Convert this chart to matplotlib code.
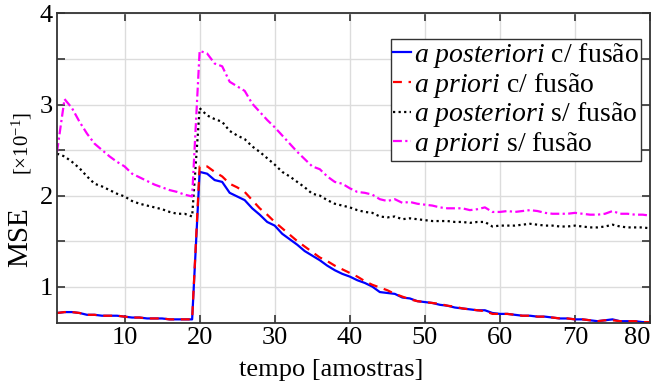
import matplotlib
matplotlib.use('Agg')
import matplotlib.pyplot as plt
import numpy as np

plt.rcParams['font.family'] = ['Liberation Serif', 'DejaVu Serif']
plt.rcParams['mathtext.fontset'] = 'custom'
plt.rcParams['mathtext.rm'] = 'Liberation Serif'
plt.rcParams['mathtext.it'] = 'Liberation Serif:italic'

# amostras 1..80
amostras = np.arange(1, 81)

post_c_fusao = [0.71, 0.72, 0.72, 0.71, 0.69, 0.69, 0.68, 0.68, 0.68, 0.67,
                0.66, 0.66, 0.65, 0.65, 0.65, 0.64, 0.64, 0.64, 0.64, 2.26,
                2.24, 2.17, 2.15, 2.03, 1.99, 1.95, 1.86, 1.79, 1.71, 1.67,
                1.58, 1.52, 1.46, 1.39, 1.34, 1.29, 1.23, 1.18, 1.14, 1.11,
                1.07, 1.04, 1.00, 0.94, 0.93, 0.92, 0.88, 0.87, 0.84, 0.83,
                0.82, 0.80, 0.79, 0.77, 0.76, 0.75, 0.74, 0.74, 0.71, 0.70,
                0.70, 0.69, 0.68, 0.68, 0.67, 0.67, 0.66, 0.65, 0.65, 0.64,
                0.64, 0.63, 0.62, 0.63, 0.64, 0.62, 0.62, 0.62, 0.61, 0.61]

prio_c_fusao = [0.71, 0.72, 0.72, 0.71, 0.69, 0.69, 0.68, 0.68, 0.68, 0.67,
                0.66, 0.66, 0.65, 0.65, 0.65, 0.64, 0.64, 0.64, 0.64, 2.32,
                2.32, 2.26, 2.21, 2.13, 2.09, 2.04, 1.95, 1.86, 1.79, 1.71,
                1.64, 1.57, 1.50, 1.44, 1.38, 1.32, 1.28, 1.23, 1.19, 1.15,
                1.11, 1.06, 1.02, 0.99, 0.96, 0.92, 0.89, 0.86, 0.84, 0.83,
                0.82, 0.81, 0.79, 0.78, 0.76, 0.75, 0.74, 0.73, 0.70, 0.70,
                0.70, 0.69, 0.68, 0.68, 0.67, 0.67, 0.66, 0.65, 0.65, 0.64,
                0.64, 0.63, 0.62, 0.63, 0.63, 0.62, 0.62, 0.62, 0.61, 0.61]

post_s_fusao = [2.46, 2.43, 2.37, 2.30, 2.21, 2.13, 2.10, 2.06, 2.02, 1.99,
                1.94, 1.91, 1.89, 1.87, 1.85, 1.82, 1.80, 1.80, 1.77, 2.96,
                2.88, 2.84, 2.81, 2.71, 2.66, 2.62, 2.54, 2.48, 2.41, 2.34,
                2.26, 2.21, 2.15, 2.09, 2.02, 2.00, 1.95, 1.91, 1.89, 1.87,
                1.84, 1.82, 1.81, 1.77, 1.76, 1.77, 1.74, 1.75, 1.74, 1.73,
                1.72, 1.72, 1.72, 1.71, 1.71, 1.70, 1.71, 1.71, 1.66, 1.67,
                1.67, 1.67, 1.68, 1.69, 1.68, 1.67, 1.67, 1.66, 1.66, 1.67,
                1.66, 1.65, 1.65, 1.66, 1.68, 1.66, 1.65, 1.65, 1.65, 1.64]

prio_s_fusao = [2.48, 3.06, 2.96, 2.81, 2.68, 2.57, 2.50, 2.43, 2.37, 2.32,
                2.24, 2.20, 2.16, 2.12, 2.09, 2.06, 2.04, 2.01, 1.99, 3.59,
                3.56, 3.45, 3.42, 3.25, 3.20, 3.15, 3.01, 2.92, 2.83, 2.75,
                2.66, 2.57, 2.48, 2.40, 2.32, 2.29, 2.21, 2.15, 2.13, 2.08,
                2.04, 2.03, 2.01, 1.96, 1.94, 1.96, 1.92, 1.93, 1.91, 1.90,
                1.89, 1.87, 1.86, 1.86, 1.86, 1.84, 1.85, 1.87, 1.82, 1.82,
                1.83, 1.82, 1.83, 1.84, 1.83, 1.81, 1.80, 1.80, 1.80, 1.81,
                1.80, 1.79, 1.79, 1.80, 1.83, 1.80, 1.80, 1.79, 1.79, 1.78]

xticks = [10, 20, 30, 40, 50, 60, 70, 80]
yticks = [1, 1.5, 2, 2.5, 3, 3.5, 4]
ytick_labels = ['1', '', '2', '', '3', '', '4']

fig = plt.figure(figsize=(6.53, 3.92), dpi=100)
ax = fig.add_axes([0.0873, 0.176, 0.9082, 0.7896])

ax.plot(amostras, post_c_fusao, color='#0000ff', lw=1.6, ls='-',
        label=r'$\it{a\ posteriori}$ c/ fusão')
ax.plot(amostras, prio_c_fusao, color='#ff0000', lw=1.6, dashes=(4, 3),
        label=r'$\it{a\ priori}$ c/ fusão')
ax.plot(amostras, post_s_fusao, color='black', lw=1.6, dashes=(1, 1.5),
        label=r'$\it{a\ posteriori}$ s/ fusão')
ax.plot(amostras, prio_s_fusao, color='#ff00ff', lw=1.6, dashes=(4, 1.5, 1, 1.5),
        label=r'$\it{a\ priori}$ s/ fusão')

ax.set_xlim(1, 80)
ax.set_ylim(0.6, 4)
ax.set_xticks(xticks)
ax.set_yticks(yticks)
ax.set_yticklabels(ytick_labels)
ax.grid(True, color='#dcdcdc', lw=1.0)
ax.set_axisbelow(True)
ax.tick_params(direction='in', top=True, right=True, length=6, width=1.2,
               color='#333333', labelsize=19, pad=3)
for s in ax.spines.values():
    s.set_color('#333333')
    s.set_linewidth(1.3)

# last x label is pulled inside the figure, like the original
ax.get_xticklabels()[-1].set_ha('right')

# axis labels placed by hand, as in the original figure
fig.text(331 / 653, 1 - 370 / 392, 'tempo [amostras]', fontsize=19,
         ha='center', va='center')
fig.text(20 / 653, 1 - 237 / 392, 'MSE', rotation=90, fontsize=21,
         ha='center', va='center')
fig.text(22 / 653, 1 - 143 / 392, r'$[\times 10^{-1}]$', rotation=90,
         fontsize=15, ha='center', va='center')

leg = ax.legend(loc='upper right', bbox_to_anchor=(0.985, 0.9176),
                borderaxespad=0, fontsize=20, handlelength=0.65,
                handletextpad=0.1, labelspacing=0.02, borderpad=0.08,
                fancybox=False, framealpha=1)
leg.get_frame().set_edgecolor('#333333')
leg.get_frame().set_linewidth(1.0)

fig.savefig('out.png', dpi=100)
